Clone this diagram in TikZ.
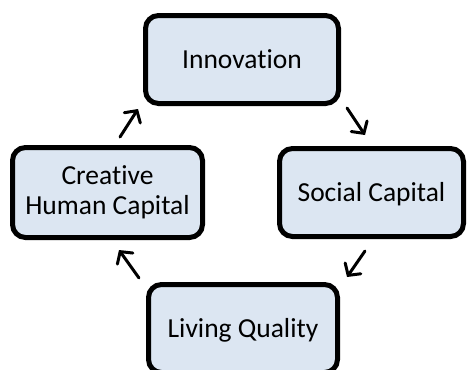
\documentclass[tikz,border=0pt]{standalone}
\usepackage{fontspec}
\setmainfont[Ligatures=NoCommon]{Carlito}
\usetikzlibrary{arrows.meta}
\definecolor{boxfill}{HTML}{DCE6F2}
\begin{document}
\begin{tikzpicture}[x=1pt,y=-1pt,
  stage/.style={draw=black, line width=5pt, fill=boxfill, rounded corners=13pt,
    inner sep=0pt, font=\fontsize{27.5}{30}\selectfont},
  oneline/.style={text height=17.5pt, text depth=0pt},
  flow/.style={line width=3pt, line cap=round,
    -{Straight Barb[length=8.5pt,width=19pt,line cap=round]}}]
\useasboundingbox (0,0) rectangle (467,370);

% the four stages of the cycle
\node[stage, oneline, minimum width=193pt, minimum height=88pt] (innov) at (242,59.5) {Innovation};
\node[stage, oneline, minimum width=184pt, minimum height=88pt] (social) at (371.5,192.5) {Social Capital};
\node[stage, oneline, minimum width=189pt, minimum height=88pt] (living) at (243,328.5) {Living Quality};
\node[stage, align=center, minimum width=190pt, minimum height=90pt] (creative) at (107.5,192.5) {Creative\\Human Capital};

% short arrows in the gaps between the stages
\coordinate (c2i-s) at (120,137);
\coordinate (c2i-e) at (138,109);
\coordinate (i2s-s) at (347,108);
\coordinate (i2s-e) at (365,135);
\coordinate (s2l-s) at (365,251);
\coordinate (s2l-e) at (347,277);
\coordinate (l2c-s) at (139,278);
\coordinate (l2c-e) at (119,250);

\draw[flow] (c2i-s) -- (c2i-e);
\draw[flow] (i2s-s) -- (i2s-e);
\draw[flow] (s2l-s) -- (s2l-e);
\draw[flow] (l2c-s) -- (l2c-e);
\end{tikzpicture}
\end{document}
